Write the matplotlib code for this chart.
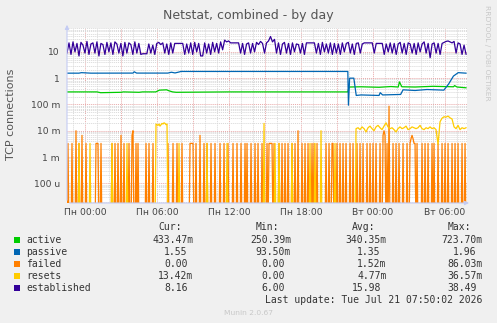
import numpy as np
import matplotlib
matplotlib.use('Agg')
import matplotlib.pyplot as plt
from matplotlib.patches import Rectangle
from matplotlib.ticker import FixedLocator, FixedFormatter, NullFormatter

# ---- data ----
# time axis in hours relative to Monday 00:00, 5 minute steps
t_start, t_end = -1.5, 31.83
n_steps = 400

# active / passive: breakpoints (hour, value)
active_hours = [-1.5, 1.0, 1.3, 3.0, 3.2, 4.5, 4.8, 5.9, 6.2, 6.8, 7.0, 7.3, 7.6, 12.0, 18.0,
                21.9, 22.0, 23.0, 24.5, 25.5, 26.1, 26.2, 26.4, 27.5, 29.0, 30.7, 30.8, 31.0, 31.75]
active_vals = [0.30, 0.30, 0.28, 0.29, 0.30, 0.29, 0.30, 0.30, 0.35, 0.36, 0.33, 0.30, 0.29, 0.30, 0.30,
               0.30, 0.46, 0.47, 0.45, 0.48, 0.46, 0.72, 0.47, 0.46, 0.49, 0.47, 0.52, 0.46, 0.43]

passive_hours = [-1.5, -0.5, -0.3, 0.5, 4.0, 4.1, 4.3, 6.9, 7.2, 7.5, 7.8, 8.0, 12.0, 18.0,
                 21.9, 21.95, 22.05, 22.4, 22.6, 23.0, 24.5, 24.6, 24.8, 26.3, 26.5, 27.5, 28.5, 29.9,
                 30.3, 30.7, 31.1, 31.75]
passive_vals = [1.55, 1.55, 1.62, 1.55, 1.56, 1.75, 1.56, 1.56, 1.68, 1.58, 1.70, 1.80, 1.80, 1.80,
                1.80, 0.0935, 1.00, 1.00, 0.22, 0.23, 0.22, 0.28, 0.23, 0.24, 0.36, 0.34, 0.37, 0.35,
                0.60, 1.20, 1.62, 1.55]

# failed: (step index, value in milli) -- zero elsewhere
failed_idx = [1, 5, 9, 12, 15, 19, 29, 30, 31, 34, 45, 48, 51, 54, 57, 62, 65, 66, 69, 71, 79, 82, 86,
              101, 106, 110, 115, 123, 124, 125, 126, 129, 133, 137, 140, 144, 148, 153, 157, 161, 166,
              170, 174, 178, 180, 184, 188, 191, 195, 200, 202, 203, 204, 205, 207, 212, 215, 218, 221,
              225, 228, 231, 235, 238, 241, 245, 247, 250, 259, 262, 265, 266, 270, 273, 276, 279, 283,
              286, 290, 293, 296, 300, 303, 306, 309, 313, 316, 317, 318, 320, 322, 326, 329, 332, 336,
              340, 343, 344, 345, 346, 347, 348, 350, 355, 358, 361, 365, 367, 371, 375, 378, 381, 385,
              388, 391, 395, 398]
failed_mvals = [3.3, 3.3, 10, 3.3, 6.7, 3.3, 3.3, 3.3, 3.3, 3.3, 3.3, 3.3, 3.3, 6.7, 3.3, 3.3, 6.7, 10,
                3.3, 3.3, 3.3, 3.3, 3.3, 3.3, 3.3, 3.3, 3.3, 3.3, 3.3, 3.3, 3.3, 3.3, 6.7, 3.3, 3.3, 3.3,
                3.3, 3.3, 3.3, 3.3, 3.3, 3.3, 3.3, 3.3, 3.3, 3.3, 3.3, 3.3, 3.3, 3.3, 3.3, 3.3, 3.3, 3.3,
                3.3, 3.3, 3.3, 3.3, 3.3, 3.3, 3.3, 10, 3.3, 3.3, 3.3, 3.3, 3.3, 3.3, 3.3, 3.3, 3.3, 3.3,
                3.3, 3.3, 3.3, 3.3, 3.3, 3.3, 3.3, 3.3, 3.3, 3.3, 3.3, 3.3, 3.3, 3.3, 6.7, 10, 6.7, 3.3,
                86, 3.3, 3.3, 3.3, 3.3, 3.3, 3.3, 5.0, 6.7, 5.0, 3.3, 3.3, 3.3, 3.3, 3.3, 3.3, 3.3, 3.3,
                3.3, 3.3, 3.3, 3.3, 3.3, 3.3, 3.3, 3.3, 3.3]

# resets: sparse spikes before Tuesday, plateau near Mon 06:00, then a 10 minute tail
resets_idx = [12, 23, 45, 60, 89, 90, 91, 92, 93, 94, 95, 96, 97, 98, 99, 100, 112, 140, 160,
              197, 208, 212, 225, 243, 248, 254, 268]
resets_mvals = [3.3, 3.3, 3.3, 3.3, 18, 17, 16, 18, 15, 17, 19, 18, 20, 19, 17, 18, 3.3, 3.3, 3.3,
                19, 3.3, 3.3, 3.3, 3.3, 3.3, 10, 3.3]
resets_tail_start = 289
resets_tail = [12, 13, 11, 14, 12, 9, 13, 15, 12, 10, 14, 16, 13, 11, 15, 20, 14, 12, 13, 11, 9, 12,
               14, 12, 13, 15, 11, 12, 14, 13, 12, 13, 16, 12, 11, 13, 12, 14, 12, 13, 11, 3, 22, 30,
               34, 33, 36, 31, 28, 14, 12, 16, 11, 13, 12, 13]

# established: 10 minute samples
established = [9, 22, 8, 24, 10, 21, 7, 23, 18, 9, 25, 8, 20, 22, 9, 24, 7, 21, 19, 8, 23, 10, 22, 8,
               24, 20, 9, 21, 7, 23, 9, 22, 19, 8, 24, 9, 21, 8, 8.5, 8.5, 8.5,
               20, 9, 18, 8, 21, 23, 19, 22, 9, 20, 8, 22, 9, 21, 21, 21, 21, 21, 8, 20, 9, 22, 8, 23,
               10, 21, 7, 7, 22, 9, 20, 8, 23, 10, 21, 9, 24, 12, 28, 24, 26, 22, 22, 22, 22, 22, 9,
               21, 8, 20, 22, 9, 21, 10, 23, 19, 25, 21, 9, 22,
               26, 38.5, 24, 30, 9, 22, 8, 20, 23, 9, 21, 8, 22, 10, 20, 19, 9, 21, 8, 22, 22, 22, 22,
               22, 9, 21, 8, 23, 10, 20, 9, 22, 8, 21,
               9, 20, 8, 22, 10, 21, 23, 9, 20, 8, 21, 22, 9, 20, 22, 22, 22, 22, 22, 9, 21, 21, 21, 21,
               8, 20, 10, 22, 9, 21, 8, 20, 23, 9, 21, 8, 22, 20, 9, 21, 8, 22, 10, 20, 24, 9, 21, 6, 20,
               22, 9, 21, 8, 21, 23, 25, 26, 24, 22, 25, 9, 22, 20, 8, 18, 8.16]

x_ticks = [0, 6, 12, 18, 24, 30]
x_labels = ['Пн 00:00', 'Пн 06:00', 'Пн 12:00', 'Пн 18:00', 'Вт 00:00', 'Вт 06:00']
y_ticks = [1e-4, 1e-3, 1e-2, 1e-1, 1, 10]
y_labels = ['100 u', '1 m', '10 m', '100 m', '1', '10']

legend_names = ['active', 'passive', 'failed', 'resets', 'established']
legend_colors = ['#00CC00', '#0066B3', '#FF8000', '#FFCC00', '#330099']
cur_vals = ['433.47m', '1.55', '0.00', '13.42m', '8.16']
min_vals = ['250.39m', '93.50m', '0.00', '0.00', '6.00']
avg_vals = ['340.35m', '1.35', '1.52m', '4.77m', '15.98']
max_vals = ['723.70m', '1.96', '86.03m', '36.57m', '38.49']

# ---- build series ----
t5 = t_start + np.arange(n_steps) * 5 / 60.0
floor = 1e-6  # zeros drawn below the bottom of the log axis

failed = np.zeros(n_steps)
failed[failed_idx] = np.array(failed_mvals) / 1000.0

resets_base = np.zeros(n_steps)
resets_base[resets_idx] = np.array(resets_mvals) / 1000.0
t_tail = t5[resets_tail_start::2][:len(resets_tail)]
t_res = np.concatenate([t5[:resets_tail_start], t_tail])
resets = np.concatenate([resets_base[:resets_tail_start], np.array(resets_tail) / 1000.0])

t_est = np.linspace(t_start, t5[-1], len(established))

# ---- figure ----
W, H = 497, 323
fig = plt.figure(figsize=(W / 100, H / 100), dpi=100, facecolor='#F0F0F0')
ax = fig.add_axes([67 / W, 1 - 203 / H, 400 / W, 175 / H])
ax.set_facecolor('white')
ax.set_yscale('log')
ax.set_xlim(t_start, t_end)
ax.set_ylim(1.78e-5, 81)

lw = 0.9
ax.plot(active_hours, active_vals, color=legend_colors[0], lw=lw)
ax.plot(passive_hours, passive_vals, color=legend_colors[1], lw=lw)
ax.plot(t5, np.maximum(failed, floor), color=legend_colors[2], lw=lw)
ax.plot(t_res, np.maximum(resets, floor), color=legend_colors[3], lw=lw)
ax.plot(t_est, established, color=legend_colors[4], lw=lw)

# grid
ax.xaxis.set_major_locator(FixedLocator(np.arange(0, 31, 3)))
ax.xaxis.set_major_formatter(NullFormatter())
ax.xaxis.set_minor_locator(FixedLocator(np.arange(-1, 32, 1)))
ax.yaxis.set_major_locator(FixedLocator(y_ticks))
ax.yaxis.set_major_formatter(FixedFormatter(y_labels))
minor_y = [m * 10.0 ** e for e in range(-5, 2) for m in range(2, 10)]
ax.yaxis.set_minor_locator(FixedLocator(minor_y))
ax.yaxis.set_minor_formatter(NullFormatter())
ax.grid(which='minor', color='#d8d8d8', lw=0.7, ls=(0, (1, 1)))
ax.grid(which='major', color='#e8a8a8', lw=0.7, ls=(0, (1, 1)))
ax.set_axisbelow(True)
ax.tick_params(which='both', length=0)
ax.tick_params(axis='y', labelsize=6.6, labelcolor='#444444', pad=5)
for s in ax.spines.values():
    s.set_visible(False)

for h, lab in zip(x_ticks, x_labels):
    ax.text(h, -0.055, lab, transform=ax.get_xaxis_transform(), ha='center', va='center',
            fontsize=6.7, color='#444444')

# axis arrows
arrow = dict(arrowstyle='-|>', color='#c4ccf4', lw=0.8, mutation_scale=6)
ax.annotate('', xy=(0, 1.034), xytext=(0, 0), xycoords='axes fraction', arrowprops=arrow,
            annotation_clip=False)
ax.annotate('', xy=(1.012, 0), xytext=(0, 0), xycoords='axes fraction', arrowprops=arrow,
            annotation_clip=False)

# titles
fig.text(248.5 / W, 1 - 15 / H, 'Netstat, combined - by day', ha='center', va='center',
         fontsize=9, color='#555555')
fig.text(11 / W, 1 - 114 / H, 'TCP connections', rotation=90, ha='center', va='center',
         fontsize=8, color='#555555')
fig.text(487 / W, 1 - 53 / H, 'RRDTOOL / TOBI OETIKER', rotation=270, ha='center', va='center',
         fontsize=5.4, color='#c8c8c8')

# legend
mono = 'DejaVu Sans Mono'
fs = 7.0
cw = 0.602 * fs * 100 / 72  # char width in px
col_end = [193.3, 291.0, 386.7, 482.7]
for x_end, head in zip(col_end, ['Cur:', 'Min:', 'Avg:', 'Max:']):
    fig.text((x_end - 2 * cw) / W, 1 - 227.5 / H, head, family=mono, fontsize=fs,
             ha='right', va='center', color='#333333')
for i, name in enumerate(legend_names):
    y = 240 + i * 12
    fig.add_artist(Rectangle((14 / W, 1 - (y + 3) / H), 6 / W, 6 / H, transform=fig.transFigure,
                             facecolor=legend_colors[i], edgecolor='none'))
    fig.text(26 / W, 1 - y / H, name, family=mono, fontsize=fs, ha='left', va='center',
             color='#333333')
    for x_end, v in zip(col_end, [cur_vals[i], min_vals[i], avg_vals[i], max_vals[i]]):
        xe = x_end if v.endswith('m') else x_end - cw
        fig.text(xe / W, 1 - y / H, v, family=mono, fontsize=fs, ha='right', va='center',
                 color='#333333')
fig.text(482.7 / W, 1 - 300 / H, 'Last update: Tue Jul 21 07:50:02 2026', family=mono, fontsize=fs,
         ha='right', va='center', color='#333333')
fig.text(248 / W, 1 - 312.7 / H, 'Munin 2.0.67', ha='center', va='center', fontsize=5.4,
         color='#c8c8c8')

fig.savefig('out.png', dpi=100, facecolor=fig.get_facecolor())
